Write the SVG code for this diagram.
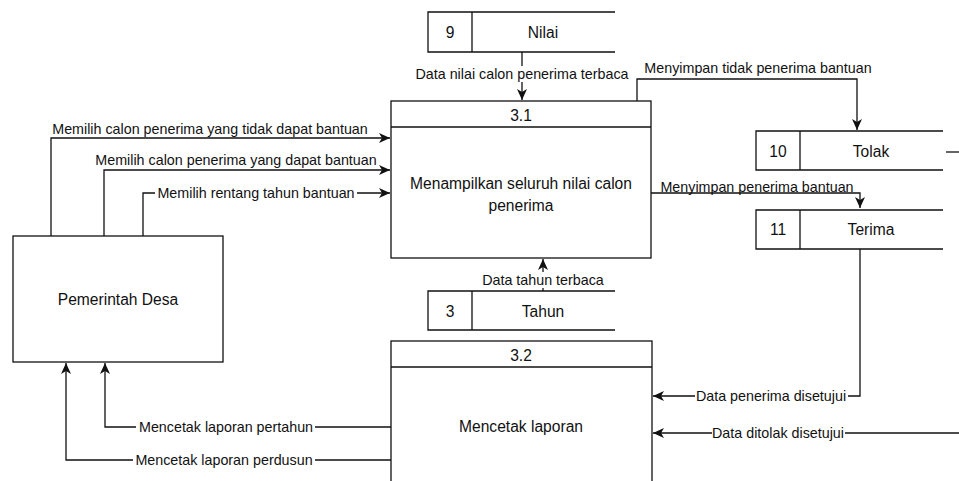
<svg xmlns="http://www.w3.org/2000/svg" width="959" height="481" viewBox="0 0 959 481">
<style>
.box{fill:#fff;stroke:#111;stroke-width:1.3}
.ln{fill:none;stroke:#111;stroke-width:1.3}
.arr{marker-end:url(#ah)}
.nt{font-family:"Liberation Sans",Arial,sans-serif;font-size:15.6px;fill:#111;text-anchor:middle;dominant-baseline:central}
.lt{font-family:"Liberation Sans",Arial,sans-serif;font-size:14.3px;fill:#111;text-anchor:middle;dominant-baseline:central}
.bg{fill:#fff}
</style>
<defs>
<marker id="ah" markerWidth="12" markerHeight="10" refX="11" refY="5" orient="auto" markerUnits="userSpaceOnUse">
<path d="M0,0 L11,5 L0,10 L3,5 z" fill="#111"/>
</marker>
</defs>
<rect width="959" height="481" fill="#fff"/>

<g id="connectors">
<!-- Nilai -> 3.1 -->
<path class="ln arr" d="M522,52 V100"/>
<rect class="bg" x="415" y="66" width="215" height="16"/>
<text class="lt" x="522" y="74">Data nilai calon penerima terbaca</text>
<!-- 3.1 -> Tolak -->
<path class="ln arr" d="M637,101 V79 H857 V130"/>
<text class="lt" x="758" y="68">Menyimpan tidak penerima bantuan</text>
<!-- 3.1 -> Terima -->
<path class="ln arr" d="M651,193 H860 V208"/>
<text class="lt" x="757" y="187">Menyimpan penerima bantuan</text>
<!-- Tolak out -->
<path class="ln" d="M946,152 H959"/>
<!-- Terima -> 3.2 -->
<path class="ln arr" d="M860,249 V396 H653"/>
<rect class="bg" x="695" y="388" width="153" height="16"/>
<text class="lt" x="771" y="396">Data penerima disetujui</text>
<!-- Tolak -> 3.2 (continuation) -->
<path class="ln arr" d="M959,433 H653"/>
<rect class="bg" x="712" y="425" width="133" height="16"/>
<text class="lt" x="778" y="433">Data ditolak disetujui</text>
<!-- Tahun -> 3.1 -->
<path class="ln arr" d="M543,291 V259"/>
<rect class="bg" x="481" y="272" width="124" height="16"/>
<text class="lt" x="543" y="280">Data tahun terbaca</text>
<!-- Pemerintah -> 3.1 -->
<path class="ln arr" d="M51,236 V138 H390"/>
<text class="lt" x="210" y="129">Memilih calon penerima yang tidak dapat bantuan</text>
<path class="ln arr" d="M104,236 V170 H390"/>
<text class="lt" x="236" y="160">Memilih calon penerima yang dapat bantuan</text>
<path class="ln arr" d="M143,236 V193 H390"/>
<rect class="bg" x="155" y="185" width="202" height="16"/>
<text class="lt" x="256" y="193">Memilih rentang tahun bantuan</text>
<!-- 3.2 -> Pemerintah -->
<path class="ln arr" d="M391,427 H105 V363"/>
<rect class="bg" x="136" y="419" width="179" height="16"/>
<text class="lt" x="226" y="427">Mencetak laporan pertahun</text>
<path class="ln arr" d="M391,460 H66 V363"/>
<rect class="bg" x="133" y="452" width="182" height="16"/>
<text class="lt" x="224" y="460">Mencetak laporan perdusun</text>
</g>

<g id="store-9">
<path class="ln" d="M615,12 H428 V52 H615 M472,12 V52"/>
<text class="nt" x="450" y="32">9</text>
<text class="nt" x="543" y="32">Nilai</text>
</g>

<g id="process-3-1">
<rect class="box" x="391" y="101" width="260" height="157"/>
<path class="ln" d="M391,127 H651"/>
<text class="nt" x="521" y="115">3.1</text>
<text class="nt" x="521" y="183">Menampilkan seluruh nilai calon</text>
<text class="nt" x="521" y="205">penerima</text>
</g>

<g id="store-10">
<path class="ln" d="M943,131 H756 V170 H943 M800,131 V170"/>
<text class="nt" x="778" y="151">10</text>
<text class="nt" x="871" y="151">Tolak</text>
</g>

<g id="store-11">
<path class="ln" d="M943,210 H756 V249 H943 M800,210 V249"/>
<text class="nt" x="778" y="229">11</text>
<text class="nt" x="871" y="229">Terima</text>
</g>

<g id="store-3">
<path class="ln" d="M615,291 H428 V330 H615 M472,291 V330"/>
<text class="nt" x="450" y="311">3</text>
<text class="nt" x="543" y="311">Tahun</text>
</g>

<g id="pemerintah-desa">
<rect class="box" x="13" y="236" width="210" height="126"/>
<text class="nt" x="118" y="299">Pemerintah Desa</text>
</g>

<g id="process-3-2">
<rect class="box" x="391" y="341" width="261" height="170"/>
<path class="ln" d="M391,367 H652"/>
<text class="nt" x="521" y="355">3.2</text>
<text class="nt" x="521" y="426">Mencetak laporan</text>
</g>
</svg>
